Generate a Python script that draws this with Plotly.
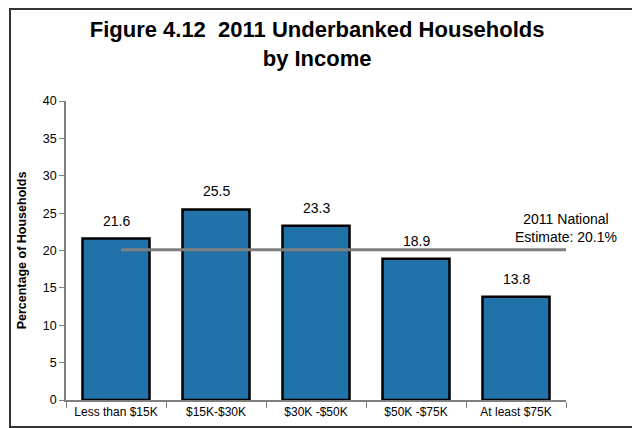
import plotly.graph_objects as go

# data
categories = ["Less than $15K", "$15K-$30K", "$30K -$50K", "$50K -$75K", "At least $75K"]
underbanked = [21.6, 25.5, 23.3, 18.9, 13.8]
national_estimate = 20.1
y_ticks = [0, 5, 10, 15, 20, 25, 30, 35, 40]

bar_color = "#2272AA"
font_family = "Liberation Sans, Arial, sans-serif"

fig = go.Figure()

# bars
fig.add_trace(
    go.Bar(x=list(range(len(categories))), y=underbanked,
           marker=dict(color=bar_color, line=dict(color="#000000", width=2.5)),
           width=0.67, showlegend=False)
)

# national estimate line
fig.add_trace(
    go.Scatter(x=[0.05, len(categories) - 0.5], y=[national_estimate] * 2,
               mode="lines", line=dict(color="#7F7F7F", width=3),
               showlegend=False, hoverinfo="skip")
)

# value labels above the bars
for i, v in enumerate(underbanked):
    fig.add_annotation(x=i, y=v, xref="x", yref="y", text=f"{v:.1f}",
                       showarrow=False, yanchor="bottom", yshift=8,
                       font=dict(size=14, color="#000000", family=font_family))

fig.add_annotation(x=len(categories) - 0.5, y=national_estimate, xref="x", yref="y",
                   text=f"2011 National<br>Estimate: {national_estimate}%",
                   showarrow=False, xanchor="center", yanchor="bottom", yshift=3,
                   font=dict(size=14, color="#000000", family=font_family))

fig.update_layout(
    width=640, height=428,
    margin=dict(l=58, r=82, t=93, b=36),
    paper_bgcolor="white", plot_bgcolor="white",
    font=dict(family=font_family, color="#000000"),
    title=dict(text="<b>Figure 4.12  2011 Underbanked Households<br>by Income</b>",
               x=0.483, xanchor="center", y=0.932, yanchor="top",
               font=dict(size=22, family=font_family, color="#000000")),
)

fig.update_xaxes(
    range=[-0.5, len(categories) - 0.5],
    tickvals=list(range(len(categories))), ticktext=categories,
    ticks="", showline=True, linecolor="#808080", linewidth=1.5,
    showgrid=False, zeroline=False, tickfont=dict(size=12),
)

# tick marks between categories
fig.update_xaxes(minor=dict(tickvals=[i - 0.5 for i in range(len(categories) + 1)],
                            ticks="outside", ticklen=6, tickcolor="#808080", tickwidth=1))

fig.update_yaxes(
    range=[0, 40], tickvals=y_ticks, ticks="outside", ticklen=5,
    tickcolor="#808080", showline=True, linecolor="#808080", linewidth=1.5,
    showgrid=False, zeroline=False, tickfont=dict(size=12.5),
    title=dict(text="<b>Percentage of Households</b>", font=dict(size=12.5), standoff=13),
)

# outer frame
fig.add_shape(type="rect", xref="paper", yref="paper", layer="above",
              x0=-0.112, x1=1.174, y0=-0.0903, y1=1.3077,
              line=dict(color="#333333", width=2))

fig.write_html("out.html")
